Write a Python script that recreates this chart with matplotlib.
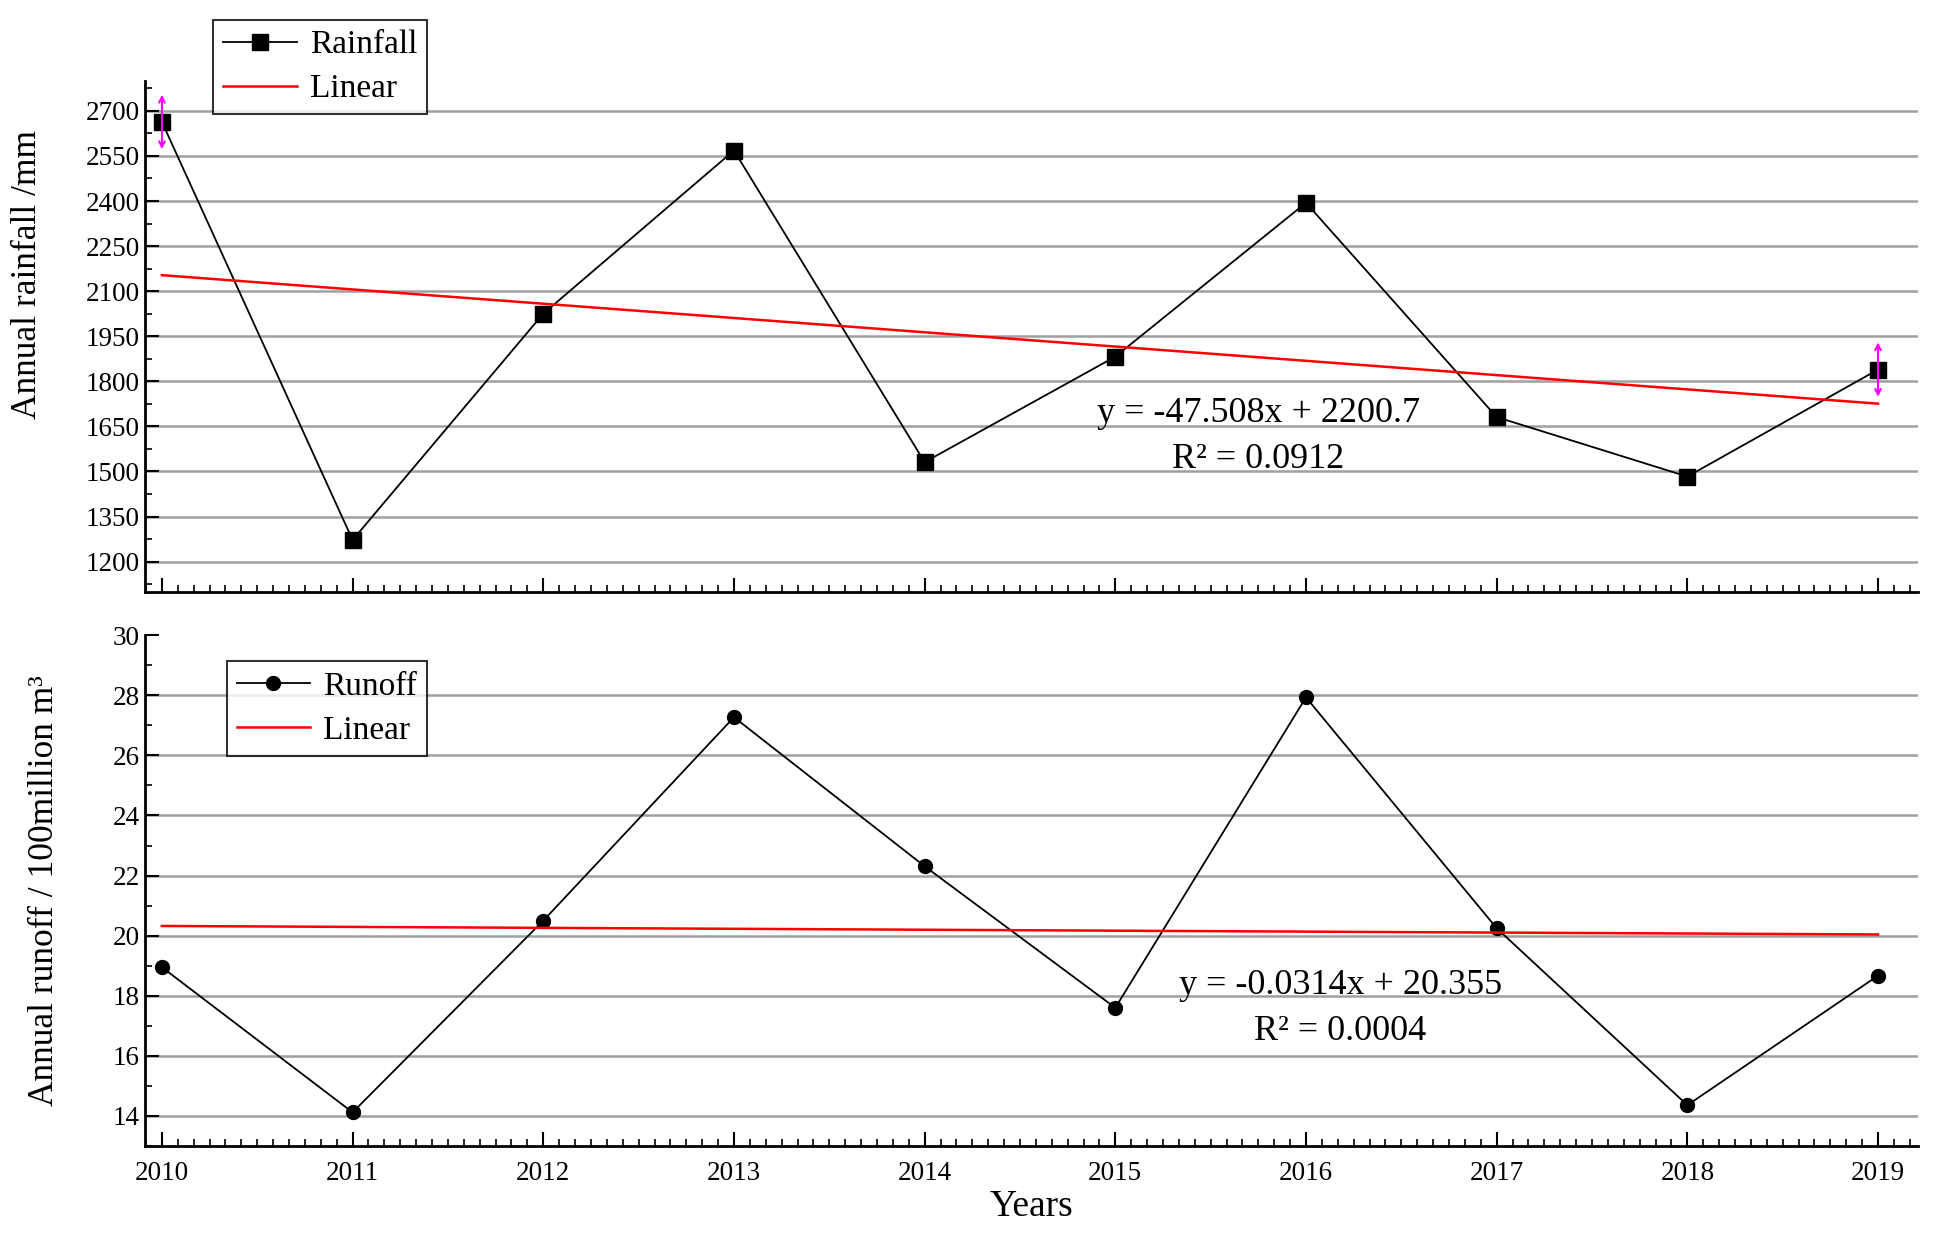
import matplotlib
matplotlib.use('Agg')
import matplotlib.pyplot as plt
from matplotlib.ticker import MultipleLocator
import numpy as np

plt.rcParams['font.family'] = ['Liberation Serif', 'DejaVu Serif']

years = [2010, 2011, 2012, 2013, 2014, 2015, 2016, 2017, 2018, 2019]
rainfall = [2663, 1272, 2025, 2568, 1531, 1882, 2394, 1681, 1483, 1839]
runoff = [18.95, 14.12, 20.5, 27.27, 22.31, 17.6, 27.93, 20.25, 14.36, 18.67]

# excel style trend lines (x = 1..10)
rain_k, rain_b = -47.508, 2200.7
run_k, run_b = -0.0314, 20.355
rain_eq = ['y = -47.508x + 2200.7', 'R² = 0.0912']
run_eq = ['y = -0.0314x + 20.355', 'R² = 0.0004']

xi = np.arange(1, len(years) + 1)
rain_fit = rain_k * xi + rain_b
run_fit = run_k * xi + run_b

fig = plt.figure(figsize=(19.38, 12.43), dpi=100)
ax1 = fig.add_axes([0.0747, 0.524, 0.915, 0.411])
ax2 = fig.add_axes([0.0747, 0.078, 0.915, 0.411])


def style(ax):
    for s in ['top', 'right']:
        ax.spines[s].set_visible(False)
    for s in ['left', 'bottom']:
        ax.spines[s].set_linewidth(2)
    ax.set_xlim(2009.91, 2019.21)
    ax.xaxis.set_major_locator(MultipleLocator(1))
    ax.xaxis.set_minor_locator(MultipleLocator(1 / 12))
    ax.tick_params(which='major', direction='in', length=10, width=1.5, labelsize=19.5)
    ax.tick_params(which='minor', direction='in', length=5, width=1.2)
    ax.grid(axis='y', which='major', color='#a0a0a0', linewidth=1.8)
    ax.set_axisbelow(True)


def make_legend(ax, handles, anchor):
    leg = ax.legend(handles=handles, loc='upper left', bbox_to_anchor=anchor,
                    bbox_transform=fig.transFigure, fontsize=24, frameon=True, fancybox=False,
                    edgecolor='black', borderpad=0.3, labelspacing=0.4, handlelength=2.2,
                    handletextpad=0.4, borderaxespad=0)
    leg.get_frame().set_linewidth(1.5)
    return leg


# rainfall
style(ax1)
l1, = ax1.plot(years, rainfall, color='black', lw=1.3, marker='s', ms=12, label='Rainfall')
l2, = ax1.plot(years, rain_fit, color='red', lw=1.8, label='Linear')
ax1.set_ylim(1100, 2800)
ax1.set_yticks(np.arange(1200, 2701, 150))
ax1.yaxis.set_minor_locator(MultipleLocator(75))
ax1.tick_params(axis='x', labelbottom=False)
ax1.set_ylabel('Annual rainfall /mm', fontsize=25.5)
ax1.yaxis.set_label_coords(-0.057, 0.62)
for i in [0, len(years) - 1]:
    ax1.annotate('', xy=(years[i], rainfall[i] + 100), xytext=(years[i], rainfall[i] - 100),
                 arrowprops=dict(arrowstyle='<->', color='magenta', lw=1.5))
ax1.text(2015.75, 1692, rain_eq[0], fontsize=26, ha='center', va='center')
ax1.text(2015.75, 1539, rain_eq[1], fontsize=26, ha='center', va='center')
make_legend(ax1, [l1, l2], (0.110, 0.984))

# runoff
style(ax2)
l3, = ax2.plot(years, runoff, color='black', lw=1.3, marker='o', ms=10, label='Runoff')
l4, = ax2.plot(years, run_fit, color='red', lw=1.8, label='Linear')
ax2.set_ylim(13, 30)
ax2.set_yticks(np.arange(14, 31, 2))
ax2.yaxis.set_minor_locator(MultipleLocator(1))
ax2.get_ygridlines()[-1].set_visible(False)
ax2.set_xticks(years)
ax2.set_xticklabels([str(y) for y in years])
ax2.tick_params(axis='x', pad=11)
ax2.set_ylabel('Annual runoff / 100million m³', fontsize=25.5)
ax2.yaxis.set_label_coords(-0.047, 0.5)
ax2.set_xlabel('Years', fontsize=27, labelpad=2)
ax2.text(2016.18, 18.34, run_eq[0], fontsize=26, ha='center', va='center')
ax2.text(2016.18, 16.81, run_eq[1], fontsize=26, ha='center', va='center')
make_legend(ax2, [l3, l4], (0.117, 0.468))

fig.savefig('out.png', dpi=100)
